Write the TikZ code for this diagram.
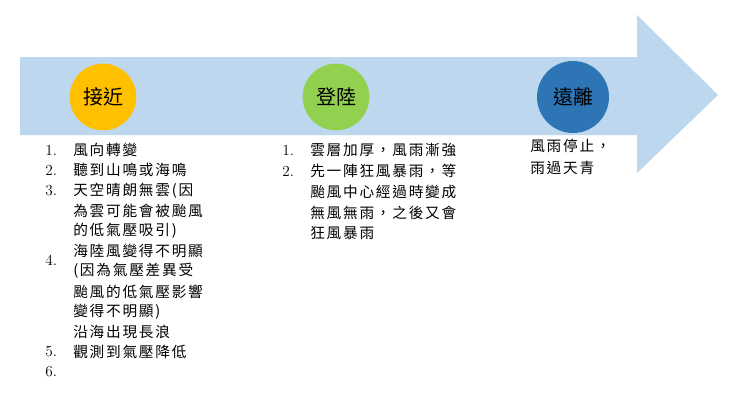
\documentclass[tikz,border=0pt]{standalone}
\usepackage{fontspec}
\newfontfamily\cjk[LetterSpace=12]{Noto Sans CJK TC}
\newfontfamily\cjkb{Noto Sans CJK TC}
\begin{document}
\begin{tikzpicture}[x=0.75pt,y=-0.75pt,
  txt/.style={anchor=west,inner sep=0pt,font=\cjk\fontsize{11pt}{13pt}\selectfont},
  num/.style={anchor=west,inner sep=0pt,font=\fontsize{11.5pt}{13pt}\selectfont},
  dot/.style={circle,minimum size=#1,inner sep=0pt,font=\cjkb\fontsize{15pt}{17pt}\selectfont}]
\useasboundingbox (0,0) rectangle (740,407);
\fill[white] (0,0) rectangle (740,407);
\fill[fill={rgb,255:red,189;green,215;blue,238}] (20,57) -- (637,57) -- (637,15) -- (718,95) -- (637,173) -- (637,135) -- (20,135) -- cycle;
\node[dot=50,fill={rgb,255:red,255;green,192;blue,0}] (c1) at (103,97) {接近};
\node[dot=50,fill={rgb,255:red,146;green,208;blue,80}] (c2) at (336,97) {登陸};
\node[dot=54,fill={rgb,255:red,46;green,117;blue,182}] (c3) at (573,97) {遠離};
\foreach \n/\y in {1./150,2./170,3./191,4./260,5./352,6./372}
  \node[num] at (45,\y) {\n};
\foreach \t [count=\i from 0] in {{風向轉變},{聽到山鳴或海鳴},{天空晴朗無雲(因},{為雲可能會被颱風},{的低氣壓吸引)},{海陸風變得不明顯},{(因為氣壓差異受},{颱風的低氣壓影響},{變得不明顯)},{沿海出現長浪},{觀測到氣壓降低}}
  \node[txt] at (73,150+20.2*\i) {\t};
\foreach \n/\y in {1./150,2./171}
  \node[num] at (282,\y) {\n};
\foreach \t [count=\i from 0] in {{雲層加厚，風雨漸強},{先一陣狂風暴雨，等},{颱風中心經過時變成},{無風無雨，之後又會},{狂風暴雨}}
  \node[txt] at (310,150+20.8*\i) {\t};
\node[txt] (r1) at (530,146) {風雨停止，};
\node[txt] (r2) at (530,168) {雨過天青};
\end{tikzpicture}
\end{document}
